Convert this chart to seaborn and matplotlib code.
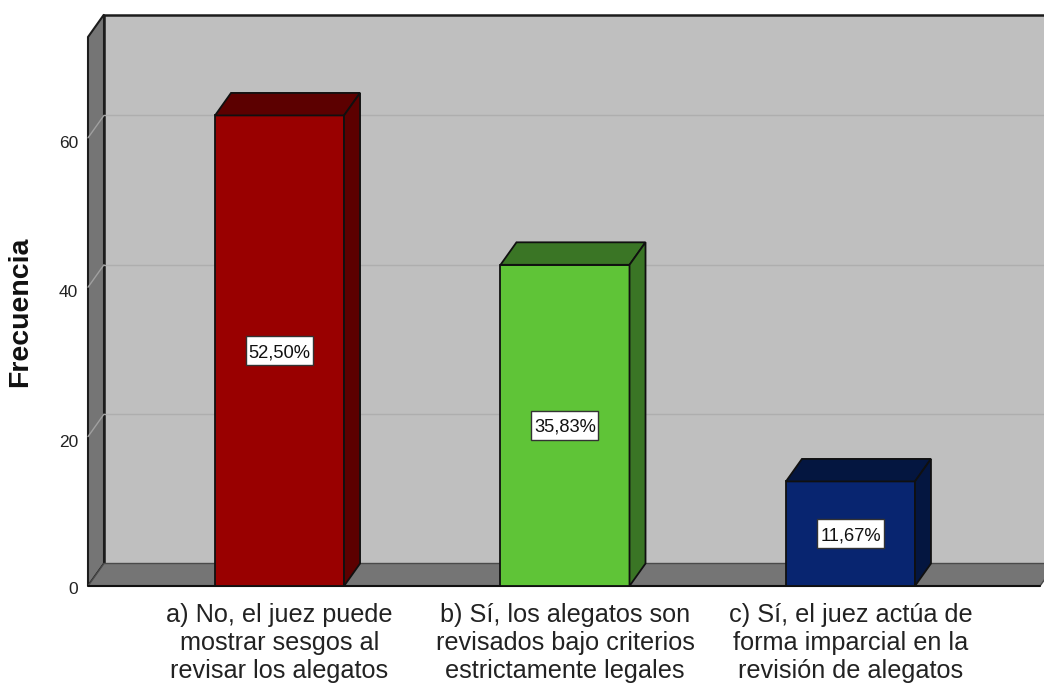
import pandas as pd
import seaborn as sns
import matplotlib.pyplot as plt
from matplotlib.patches import Polygon, Rectangle
from matplotlib.transforms import ScaledTranslation

categories = ['a) No, el juez puede\nmostrar sesgos al\nrevisar los alegatos',
              'b) Sí, los alegatos son\nrevisados bajo criterios\nestrictamente legales',
              'c) Sí, el juez actúa de\nforma imparcial en la\nrevisión de alegatos']
frequencies = [63, 43, 14]
percent_labels = ['52,50%', '35,83%', '11,67%']
front_colors = ['#990000', '#5FC437', '#082570']
side_colors = ['#5C0000', '#3A7525', '#041640']
y_ticks = [0, 20, 40, 60]

df = pd.DataFrame({'categoria': categories, 'frecuencia': frequencies})

sns.set_theme(style='white')
plt.rcParams['font.family'] = ['Liberation Sans', 'DejaVu Sans']

W, H, DPI = 1044, 684, 100
fig = plt.figure(figsize=(W / DPI, H / DPI), dpi=DPI, facecolor='white')
ax = fig.add_axes([88 / W, 1 - 586 / H, 952 / W, 549 / H])
ax.patch.set_visible(False)

sns.barplot(data=df, x='categoria', y='frecuencia', hue='categoria', palette=front_colors,
            saturation=1, width=0.452, legend=False, ax=ax, edgecolor='#101010', linewidth=1.3, zorder=5)
bars = sorted([b for c in ax.containers for b in c if b.get_height() > 0], key=lambda b: b.get_x())
ax.set_xlim(-0.671, 2.664)
ax.set_ylim(0, 73.5)

# depth of the fake 3D box, in pixels
dx_px, dy_px = 16, 22.5
back = ax.transData + ScaledTranslation(dx_px / DPI, dy_px / DPI, fig.dpi_scale_trans)
x0, x1 = ax.get_xlim()
y_top = ax.get_ylim()[1]
edge = '#1c1c1c'

# back wall, left wall, floor
ax.add_patch(Rectangle((x0, 0), x1 - x0, y_top, transform=back, facecolor='#BFBFBF',
                       edgecolor=edge, linewidth=1.8, clip_on=False, zorder=1))
wall_left = [(x0, 0, ax.transData), (x0, y_top, ax.transData), (x0, y_top, back), (x0, 0, back)]
floor = [(x0, 0, ax.transData), (x1, 0, ax.transData), (x1, 0, back), (x0, 0, back)]
to_px = lambda pts: [t.transform((a, b)) for a, b, t in pts]
ax.add_patch(Polygon(to_px(wall_left), closed=True, transform=None, facecolor='#757575',
                     edgecolor=edge, linewidth=1.5, clip_on=False, zorder=2))
ax.add_patch(Polygon(to_px(floor), closed=True, transform=None, facecolor='#757575',
                     edgecolor='#4a4a4a', linewidth=1.0, clip_on=False, zorder=2))
ax.plot([x0, x1], [0, 0], color='#101010', lw=1.5, clip_on=False, zorder=4)

# gridlines run along the left wall and the back wall
for t in y_ticks[1:]:
    ax.plot([x0, x1], [t, t], transform=back, color='#AEAEAE', lw=1.0, clip_on=False, zorder=3)
    p0, p1 = ax.transData.transform((x0, t)), back.transform((x0, t))
    ax.plot([p0[0], p1[0]], [p0[1], p1[1]], transform=None, color='#A0A0A0', lw=1.0,
            clip_on=False, zorder=3)

# top and side of each bar, plus the percent box
box_w, box_h = 67, 29
for bar, side, lab in zip(bars, side_colors, percent_labels):
    xa, w, h = bar.get_x(), bar.get_width(), bar.get_height()
    top = [(xa, h, ax.transData), (xa + w, h, ax.transData), (xa + w, h, back), (xa, h, back)]
    right = [(xa + w, 0, ax.transData), (xa + w, h, ax.transData), (xa + w, h, back), (xa + w, 0, back)]
    for pts in (top, right):
        ax.add_patch(Polygon(to_px(pts), closed=True, transform=None, facecolor=side,
                             edgecolor='#101010', linewidth=1.3, clip_on=False, zorder=6))
    cx, cy = ax.transData.transform((xa + w / 2, h / 2))
    ax.add_patch(Rectangle((cx - box_w / 2, cy - box_h / 2), box_w, box_h, transform=None,
                           facecolor='white', edgecolor='#333333', linewidth=1, zorder=7))
    ax.text(xa + w / 2, h / 2, lab, ha='center', va='center_baseline', fontsize=13.2,
            color='#111111', zorder=8)

ax.set_xlabel('')
ax.set_ylabel('Frecuencia', fontsize=20.5, fontweight='bold', color='#111111', labelpad=0)
ax.yaxis.set_label_coords(-55 / 952, 0.5)
ax.set_yticks(y_ticks)
ax.set_yticklabels([str(t) for t in y_ticks], fontsize=12.5, color='#222222')
ax.tick_params(axis='y', length=0, pad=7)
ax.tick_params(axis='x', length=0, pad=12)
for lbl, shift in zip(ax.get_yticklabels(), [-2, -4, -4, -4]):
    lbl.set_transform(lbl.get_transform() + ScaledTranslation(0, shift / DPI, fig.dpi_scale_trans))
for lbl in ax.get_xticklabels():
    lbl.set_fontsize(18.2)
    lbl.set_color('#222222')
    lbl.set_linespacing(1.22)
sns.despine(ax=ax, left=True, bottom=True)

fig.savefig('out.png', dpi=DPI)
